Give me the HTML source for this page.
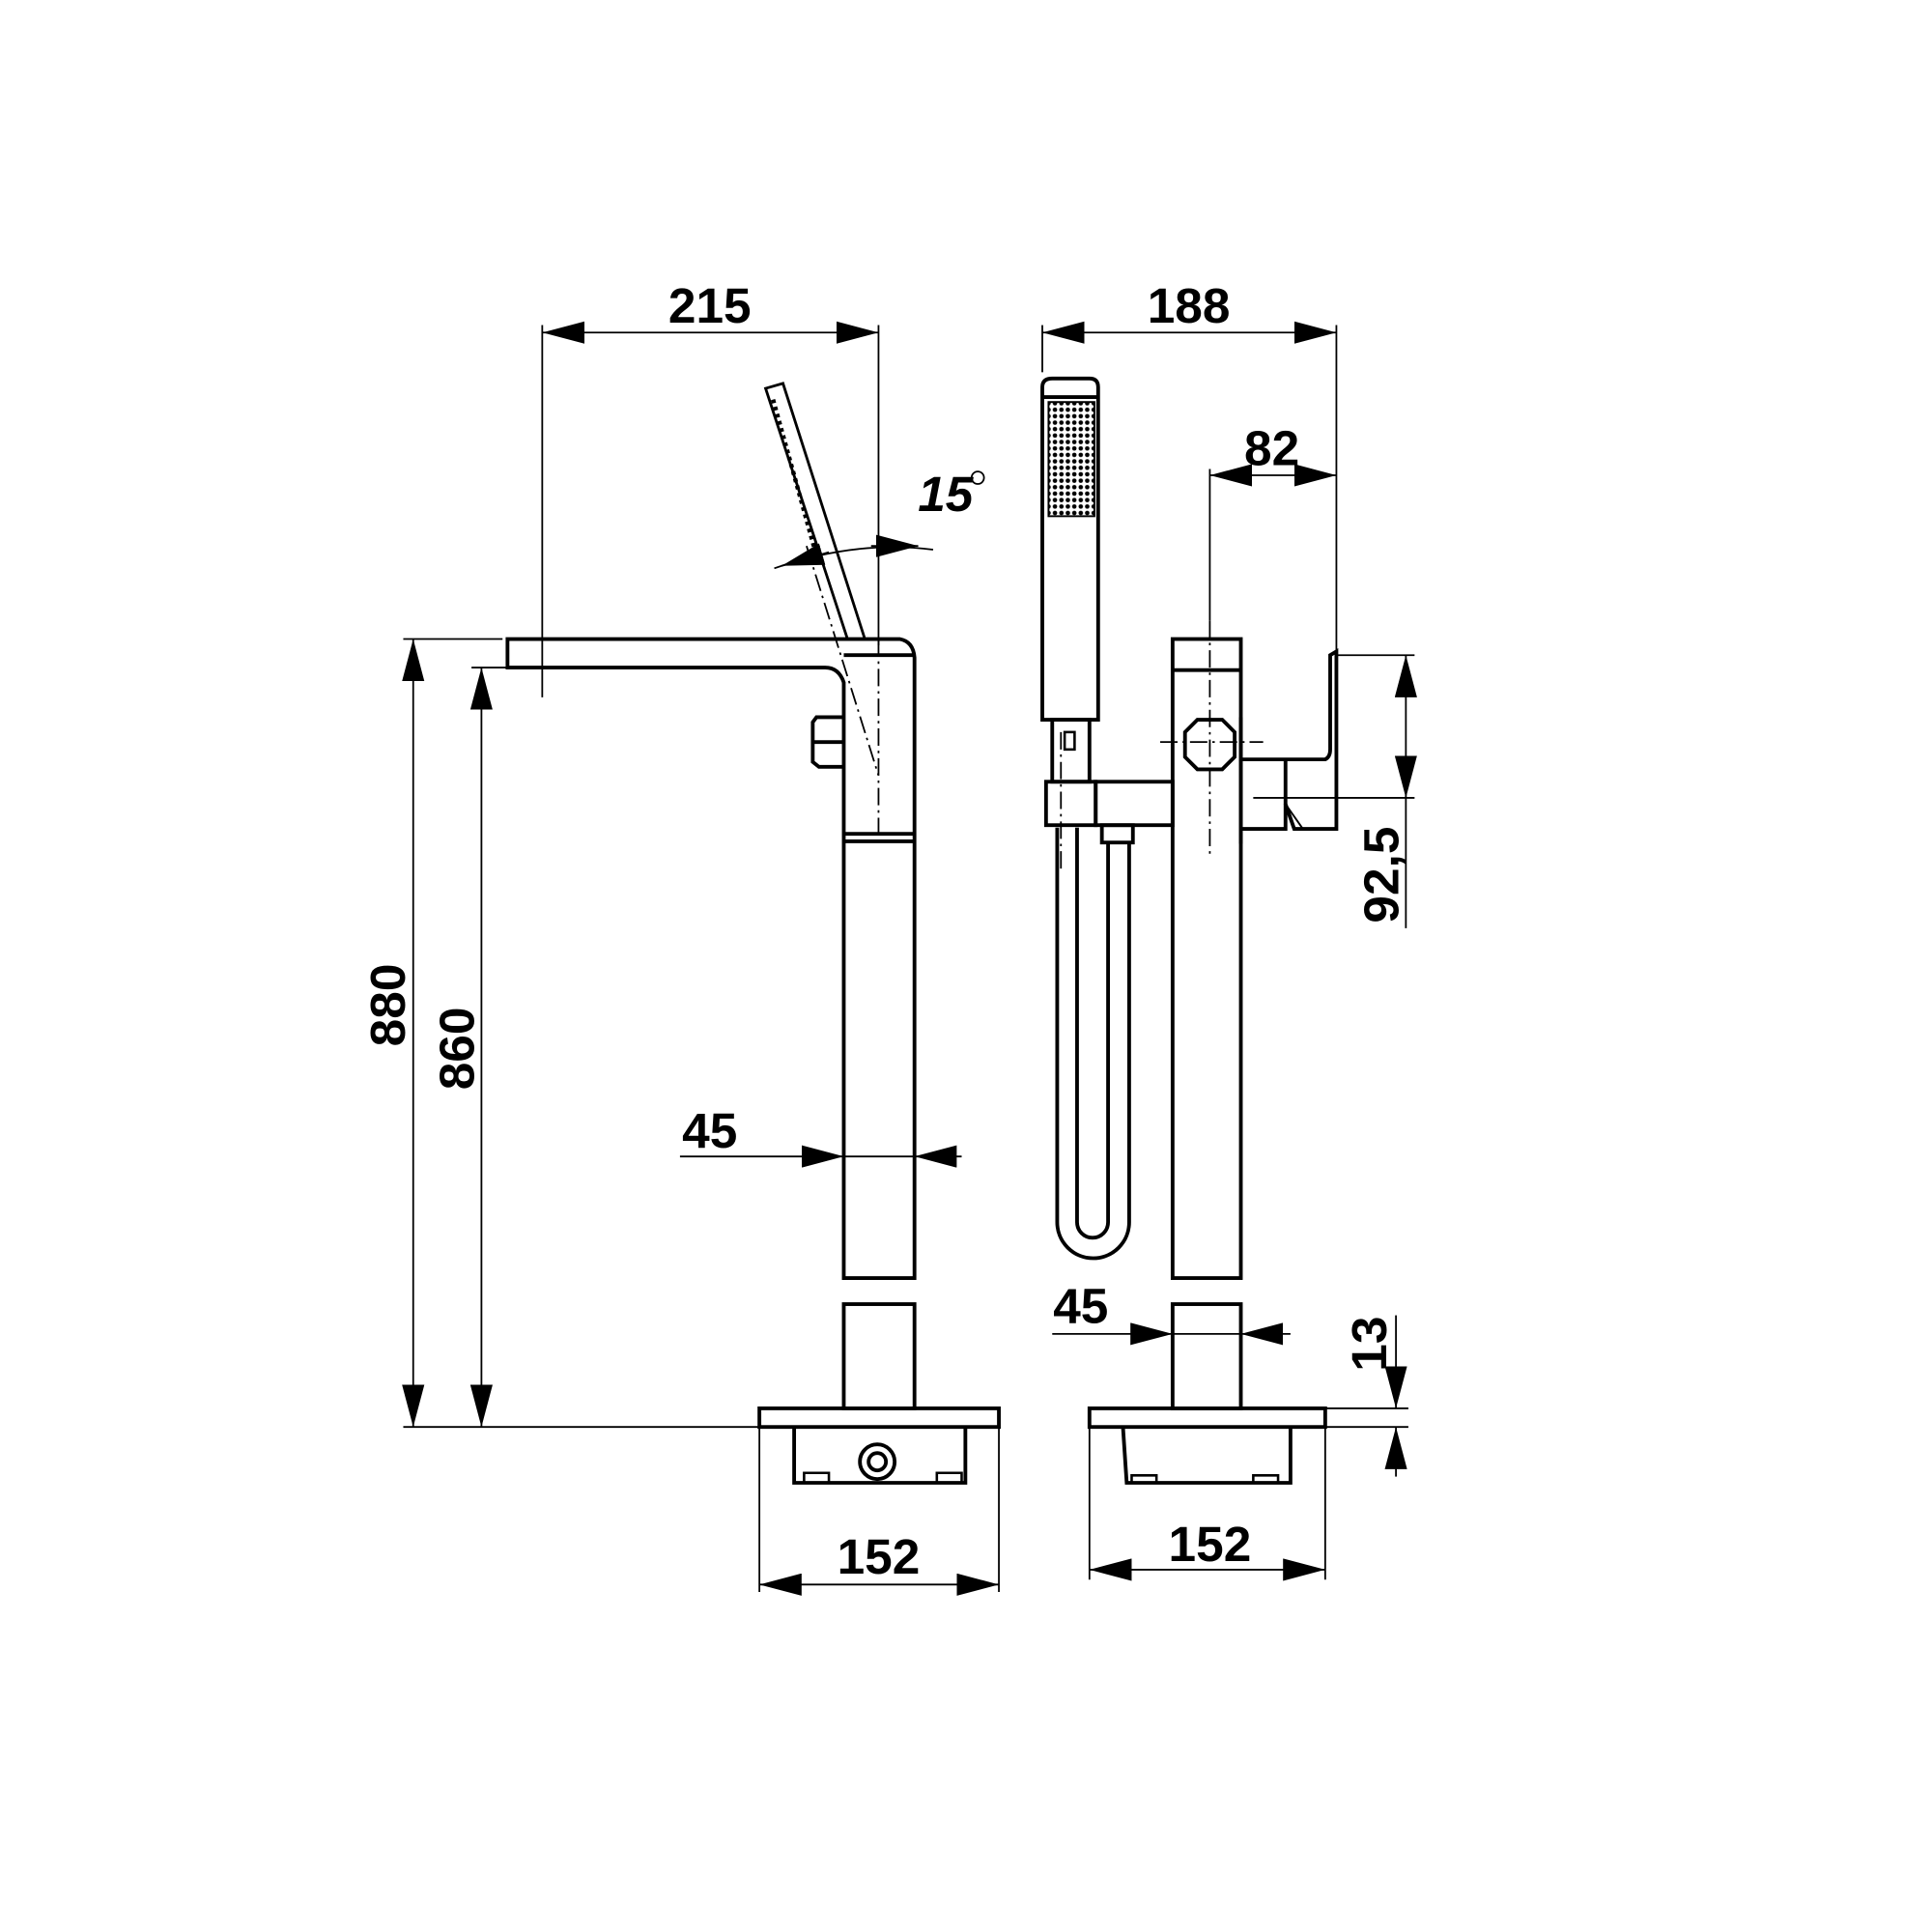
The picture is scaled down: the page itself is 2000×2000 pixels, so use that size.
<!DOCTYPE html>
<html><head><meta charset="utf-8"><style>
html,body{margin:0;padding:0;background:#fff;}
svg{display:block;}
text{font-family:"Liberation Sans",Arial,sans-serif;font-weight:bold;fill:#000;}
</style></head><body>
<svg width="2000" height="2000" viewBox="0 0 1557 1557" xmlns="http://www.w3.org/2000/svg">
<defs>
<marker id="a" viewBox="0 0 10 10" refX="10" refY="5" markerWidth="34" markerHeight="18" markerUnits="userSpaceOnUse" orient="auto-start-reverse" preserveAspectRatio="none"><path d="M0,0L10,5L0,10z" fill="#000"/></marker>
<pattern id="dots" width="5.2" height="5.2" patternUnits="userSpaceOnUse"><circle cx="2.6" cy="2.6" r="1.8" fill="#000"/></pattern>
</defs>
<g fill="none" stroke="#000" stroke-width="1.4">
<line x1="437" y1="262" x2="437" y2="562"/>
<line x1="708" y1="262" x2="708" y2="520"/>
<line x1="437" y1="268" x2="708" y2="268" marker-start="url(#a)" marker-end="url(#a)"/>
<line x1="325" y1="515" x2="405" y2="515"/>
<line x1="380" y1="538" x2="409" y2="538"/>
<line x1="333" y1="515" x2="333" y2="1150" marker-start="url(#a)" marker-end="url(#a)"/>
<line x1="388" y1="538" x2="388" y2="1150" marker-start="url(#a)" marker-end="url(#a)"/>
<line x1="325" y1="1150" x2="612" y2="1150"/>
<line x1="548" y1="932" x2="680" y2="932" marker-end="url(#a)"/>
<line x1="680" y1="932" x2="737" y2="932"/>
<line x1="775" y1="932" x2="737" y2="932" marker-end="url(#a)"/>
<line x1="612" y1="1150" x2="612" y2="1283"/>
<line x1="805" y1="1150" x2="805" y2="1283"/>
<line x1="612" y1="1277" x2="805" y2="1277" marker-start="url(#a)" marker-end="url(#a)"/>
<path d="M624,458 Q690,435 752,443"/>
<path d="M668,445 L630,456" marker-end="url(#a)"/>
<path d="M702,440 L740,440" marker-end="url(#a)"/>
<line x1="708" y1="515" x2="708" y2="680" stroke-dasharray="14,4,2,4"/>
<line x1="650" y1="440" x2="708" y2="625" stroke-dasharray="14,4,2,4"/>
<line x1="840" y1="262" x2="840" y2="300"/>
<line x1="1077" y1="262" x2="1077" y2="525"/>
<line x1="840" y1="268" x2="1077" y2="268" marker-start="url(#a)" marker-end="url(#a)"/>
<line x1="975" y1="378" x2="975" y2="500"/>
<line x1="975" y1="383" x2="1077" y2="383" marker-start="url(#a)" marker-end="url(#a)"/>
<line x1="975" y1="500" x2="975" y2="690" stroke-dasharray="14,4,2,4"/>
<line x1="935" y1="598" x2="1018" y2="598" stroke-dasharray="14,4,2,4"/>
<line x1="1077" y1="528" x2="1140" y2="528"/>
<line x1="1010" y1="643" x2="1140" y2="643"/>
<line x1="1133" y1="528" x2="1133" y2="643" marker-start="url(#a)" marker-end="url(#a)"/>
<line x1="1133" y1="643" x2="1133" y2="748"/>
<line x1="848" y1="1075" x2="945" y2="1075" marker-end="url(#a)"/>
<line x1="945" y1="1075" x2="1000" y2="1075"/>
<line x1="1040" y1="1075" x2="1000" y2="1075" marker-end="url(#a)"/>
<line x1="1068" y1="1135" x2="1135" y2="1135"/>
<line x1="1068" y1="1150" x2="1135" y2="1150"/>
<line x1="1125" y1="1060" x2="1125" y2="1135" marker-end="url(#a)"/>
<line x1="1125" y1="1190" x2="1125" y2="1150" marker-end="url(#a)"/>
<line x1="878" y1="1150" x2="878" y2="1273"/>
<line x1="1068" y1="1150" x2="1068" y2="1273"/>
<line x1="878" y1="1265" x2="1068" y2="1265" marker-start="url(#a)" marker-end="url(#a)"/>
<line x1="855" y1="590" x2="855" y2="700" stroke-dasharray="14,4,2,4"/>
</g>
<g fill="none" stroke="#000" stroke-width="3">
<path d="M409,515 L725,515 Q736,517 737,530 L737,1030 L680,1030 L680,550 Q676,538 665,538 L409,538 Z"/>
<line x1="680" y1="528" x2="737" y2="528"/>
<line x1="680" y1="672" x2="737" y2="672"/>
<line x1="680" y1="678" x2="737" y2="678"/>
<path d="M680,578 L658,578 L655,582 L655,614 L660,618 L680,618"/>
<line x1="655" y1="598" x2="680" y2="598"/>
<polygon points="617,313 631,309 697,515 683,515" stroke-width="2.2"/>
<rect x="680" y="1051" width="57" height="84"/>
<rect x="612" y="1135" width="193" height="15"/>
<path d="M640,1150 L640,1195 L778,1195 L778,1150"/>
<path d="M648,1195 v-8 h20 v8 M755,1195 v-8 h20 v8" stroke-width="2"/>
<circle cx="707" cy="1178" r="14"/>
<circle cx="707" cy="1178" r="7"/>
<path d="M840,580 L840,312 Q840,305 848,305 L878,305 Q885,305 885,312 L885,580 Z"/>
<line x1="840" y1="320" x2="885" y2="320"/>
<rect x="845" y="324" width="37" height="92" fill="url(#dots)" stroke-width="1.5"/>
<rect x="848" y="580" width="30" height="50"/>
<rect x="858" y="590" width="8" height="14" stroke-width="2"/>
<rect x="843" y="630" width="40" height="35"/>
<rect x="883" y="630" width="62" height="35"/>
<path d="M852,667 L852,985 A28,28 0 0 0 910,985 L910,680"/>
<path d="M868,667 L868,985 A12,12 0 0 0 893,985 L893,680"/>
<rect x="888" y="665" width="25" height="14"/>
<rect x="945" y="515" width="55" height="515"/>
<line x1="945" y1="540" x2="1000" y2="540"/>
<path d="M1000,578 L1000,612 L1068,612 Q1072,610 1072,604 L1072,528 L1077,525 L1077,668 L1043,668 L1036,648 L1036,612"/>
<path d="M1000,668 L1036,668 L1036,648" />
<line x1="1000" y1="612" x2="1000" y2="680"/>
<path d="M1036,648 L1050,668" stroke-width="1.5"/>
<polygon points="965,580 985,580 995,590 995,610 985,620 965,620 955,610 955,590"/>
<rect x="945" y="1051" width="55" height="84"/>
<rect x="878" y="1135" width="190" height="15"/>
<path d="M905,1150 L908,1195 L1040,1195 L1040,1150"/>
<path d="M912,1195 v-6 h20 v6 M1010,1195 v-6 h20 v6" stroke-width="2"/>
</g>
<g stroke="#000" stroke-width="3.5" stroke-dasharray="3,3">
<line x1="623" y1="322" x2="660" y2="455"/>
</g>
<text x="572" y="260" font-size="40" text-anchor="middle">215</text>
<text x="762" y="412" font-size="40" text-anchor="middle" font-style="italic" font-weight="normal">15</text>
<circle cx="788" cy="385" r="5" fill="none" stroke="#000" stroke-width="1.4"/>
<text x="958" y="260" font-size="40" text-anchor="middle">188</text>
<text x="1025" y="375" font-size="40" text-anchor="middle">82</text>
<text x="572" y="925" font-size="40" text-anchor="middle">45</text>
<text x="871" y="1066" font-size="40" text-anchor="middle">45</text>
<text x="708" y="1268" font-size="40" text-anchor="middle">152</text>
<text x="975" y="1258" font-size="40" text-anchor="middle">152</text>
<text transform="translate(326,810) rotate(-90)" font-size="40" text-anchor="middle">880</text>
<text transform="translate(382,845) rotate(-90)" font-size="40" text-anchor="middle">860</text>
<text transform="translate(1127,705) rotate(-90)" font-size="40" text-anchor="middle">92,5</text>
<text transform="translate(1117,1083) rotate(-90)" font-size="40" text-anchor="middle">13</text>
</svg>
</body></html>
